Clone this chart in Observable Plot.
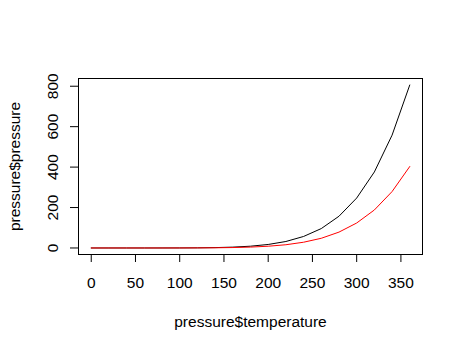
<!DOCTYPE html>
<html>
<head>
<meta charset="utf-8">
<script src="https://cdn.jsdelivr.net/npm/d3@7"></script>
<script src="https://cdn.jsdelivr.net/npm/@observablehq/plot@0.6"></script>
<style>
  html, body { margin: 0; padding: 0; background: #fff; }
</style>
</head>
<body>
<div id="chart"></div>
<script>
const temperature = [0, 20, 40, 60, 80, 100, 120, 140, 160, 180, 200, 220, 240, 260, 280, 300, 320, 340, 360];
const pressure = [0.0002, 0.0012, 0.006, 0.03, 0.09, 0.27, 0.75, 1.85, 4.2, 8.8, 17.3, 32.1, 57, 96, 157, 247, 376, 558, 806];
const pressureRed = [0.0001, 0.0006, 0.003, 0.015, 0.045, 0.135, 0.375, 0.925, 2.1, 4.4, 8.65, 16.05, 28.5, 48, 78.5, 123.5, 188, 279, 403];
const xTicks = [0, 50, 100, 150, 200, 250, 300, 350];
const yTicks = [0, 200, 400, 600, 800];
const xTitle = "pressure$temperature";
const yTitle = "pressure$pressure";

const black = temperature.map((t, i) => ({t, p: pressure[i]}));
const red = temperature.map((t, i) => ({t, p: pressureRed[i]}));

const chart = Plot.plot({
  width: 463,
  height: 352,
  marginLeft: 78,
  marginRight: 41,
  marginTop: 78,
  marginBottom: 98,
  style: {fontFamily: "'Liberation Sans', Arial, sans-serif", fontSize: "15.5px", color: "#000", background: "#fff"},
  x: {domain: [-14.4, 374.4]},
  y: {domain: [-32.24, 838.24]},
  marks: [
    Plot.frame({stroke: "#000", strokeWidth: 1}),
    Plot.axisX({ticks: xTicks, tickSize: 8, tickPadding: 14, label: null, tickFormat: d => String(d), stroke: "#000"}),
    Plot.axisY({ticks: yTicks, tickSize: 8, tickPadding: 13, tickRotate: -90, textAnchor: "middle", lineAnchor: "bottom", label: null, tickFormat: d => String(d), stroke: "#000"}),
    Plot.line(black, {x: "t", y: "p", stroke: "#000", strokeWidth: 1}),
    Plot.line(red, {x: "t", y: "p", stroke: "#ff0000", strokeWidth: 1}),
    Plot.text([xTitle], {frameAnchor: "bottom", dy: 68, lineAnchor: "middle", textAnchor: "middle", text: d => d, fill: "#000"}),
    Plot.text([yTitle], {frameAnchor: "left", dx: -63, rotate: -90, lineAnchor: "middle", textAnchor: "middle", text: d => d, fill: "#000"})
  ]
});
document.getElementById("chart").appendChild(chart);
</script>
</body>
</html>
